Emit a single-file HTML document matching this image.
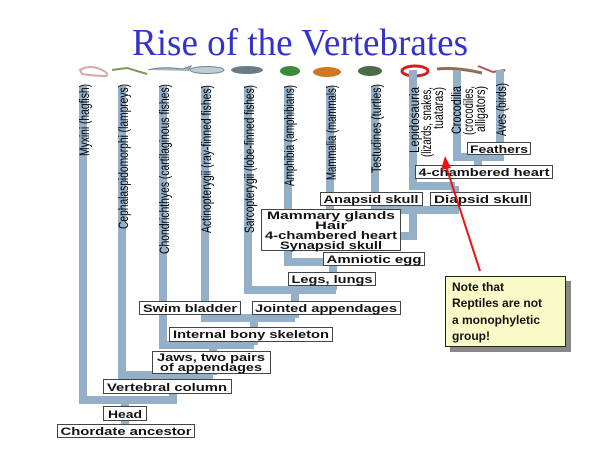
<!DOCTYPE html>
<html><head><meta charset="utf-8"><style>
html,body{margin:0;padding:0;background:#fff;}
svg{display:block;}
</style></head><body>
<svg width="600" height="450" viewBox="0 0 600 450" xmlns="http://www.w3.org/2000/svg" font-family="Liberation Sans, sans-serif">
<text x="300" y="55" text-anchor="middle" font-family="Liberation Serif, serif" font-size="38" fill="#3333cc" textLength="336" lengthAdjust="spacingAndGlyphs">Rise of the Vertebrates</text>

<!-- animals -->
<g>
<path d="M80 70 q10 -6 22 0 q8 4 4 6 q-10 0 -24 -2z" fill="none" stroke="#d8a8a8" stroke-width="2"/>
<path d="M112 70 l15 -2 l20 6" fill="none" stroke="#7a9a50" stroke-width="2"/>
<path d="M148 70 q15 -4 35 -1 l8 -3 l-3 5" fill="#a8b8c0" stroke="#708090" stroke-width="1"/>
<ellipse cx="207" cy="70" rx="17" ry="3.5" fill="#c0ccd0" stroke="#708898"/>
<ellipse cx="247" cy="70" rx="16" ry="4" fill="#6a7a88"/>
<ellipse cx="290" cy="71" rx="10" ry="5" fill="#3a8a3a"/>
<ellipse cx="327" cy="72" rx="14" ry="5" fill="#d07820"/>
<ellipse cx="370" cy="71" rx="12" ry="5" fill="#4a6a4a"/>
<ellipse cx="415" cy="71" rx="13" ry="5" fill="none" stroke="#d02020" stroke-width="3"/>
<path d="M437 69 q20 -2 45 4" fill="none" stroke="#8a7050" stroke-width="3"/>
<path d="M478 66 l15 6 l12 -2 l-8 5" fill="none" stroke="#b05050" stroke-width="2"/>
</g>

<!-- branches -->
<g stroke="#94b0c8" stroke-width="8" fill="none" stroke-linejoin="miter" stroke-linecap="butt">
<path d="M83 86 V400 H173 V378"/>
<path d="M125 400 V428"/>
<path d="M122 86 V375 H213"/>
<path d="M163 86 V345 H254"/>
<path d="M205 86 V318 H295"/>
<path d="M248 86 V290 H336"/>
<path d="M288 86 V262 H333 V290"/>
<path d="M330 86 V236 H413 V212"/>
<path d="M375 86 V210 H455 V186"/>
<path d="M413 70 V186 H455"/>
<path d="M457 70 V157 H500 V70"/>
<path d="M478 157 V171"/>
<path d="M213 375 V340"/>
<path d="M254 345 V318"/>
<path d="M295 318 V290"/>
</g>

<!-- rotated labels -->
<g font-size="14" fill="#000">
<text transform="translate(89,84) rotate(-90)" text-anchor="end" textLength="72" lengthAdjust="spacingAndGlyphs">Myxini (hagfish)</text>
<text transform="translate(128,84) rotate(-90)" text-anchor="end" textLength="145" lengthAdjust="spacingAndGlyphs">Cephalaspidomorphi (lampreys)</text>
<text transform="translate(169,84) rotate(-90)" text-anchor="end" textLength="170" lengthAdjust="spacingAndGlyphs">Chondrichthyes (cartilaginous fishes)</text>
<text transform="translate(211,85) rotate(-90)" text-anchor="end" textLength="148" lengthAdjust="spacingAndGlyphs">Actinopterygii (ray-finned fishes)</text>
<text transform="translate(254,85) rotate(-90)" text-anchor="end" textLength="148" lengthAdjust="spacingAndGlyphs">Sarcopterygii (lobe-finned fishes)</text>
<text transform="translate(294,85) rotate(-90)" text-anchor="end" textLength="101" lengthAdjust="spacingAndGlyphs">Amphibia (amphibians)</text>
<text transform="translate(336,85) rotate(-90)" text-anchor="end" textLength="95" lengthAdjust="spacingAndGlyphs">Mammalia (mammals)</text>
<text transform="translate(381,84) rotate(-90)" text-anchor="end" textLength="89" lengthAdjust="spacingAndGlyphs">Testudines (turtles)</text>
<text transform="translate(419,87) rotate(-90)" text-anchor="end" textLength="66" lengthAdjust="spacingAndGlyphs">Lepidosauria</text>
<text transform="translate(431,87) rotate(-90)" text-anchor="end" textLength="70" lengthAdjust="spacingAndGlyphs">(lizards, snakes,</text>
<text transform="translate(443,87) rotate(-90)" text-anchor="end" textLength="42" lengthAdjust="spacingAndGlyphs">tuataras)</text>
<text transform="translate(461,86) rotate(-90)" text-anchor="end" textLength="48" lengthAdjust="spacingAndGlyphs">Crocodilia</text>
<text transform="translate(473,86) rotate(-90)" text-anchor="end" textLength="49" lengthAdjust="spacingAndGlyphs">(crocodiles,</text>
<text transform="translate(485,86) rotate(-90)" text-anchor="end" textLength="46" lengthAdjust="spacingAndGlyphs">alligators)</text>
<text transform="translate(506,83) rotate(-90)" text-anchor="end" textLength="53" lengthAdjust="spacingAndGlyphs">Aves (birds)</text>
</g>

<!-- boxes -->
<g font-size="11" font-weight="bold" fill="#111" stroke="none">
<g fill="#fff" stroke="#444" stroke-width="1">
<rect x="57.5" y="424.5" width="137" height="13"/>
<rect x="103.5" y="406.5" width="43" height="14"/>
<rect x="103.5" y="379.5" width="128" height="14"/>
<rect x="152.5" y="351.5" width="118" height="22"/>
<rect x="169.5" y="327.5" width="163" height="14"/>
<rect x="139.5" y="301.5" width="101" height="13"/>
<rect x="252.5" y="301.5" width="148" height="13"/>
<rect x="288.5" y="272.5" width="87" height="13"/>
<rect x="323.5" y="252.5" width="101" height="13"/>
<rect x="261.5" y="209.5" width="139" height="41"/>
<rect x="320.5" y="192.5" width="102" height="13"/>
<rect x="430.5" y="192.5" width="100" height="13"/>
<rect x="415.5" y="165.5" width="137" height="13"/>
<rect x="467.5" y="142.5" width="63" height="12"/>
</g>
<text x="126" y="435" text-anchor="middle" textLength="131" lengthAdjust="spacingAndGlyphs">Chordate ancestor</text>
<text x="125" y="418" text-anchor="middle" textLength="34" lengthAdjust="spacingAndGlyphs">Head</text>
<text x="167" y="391" text-anchor="middle" textLength="120" lengthAdjust="spacingAndGlyphs">Vertebral column</text>
<text x="211" y="361" text-anchor="middle" textLength="108" lengthAdjust="spacingAndGlyphs">Jaws, two pairs</text>
<text x="211" y="371" text-anchor="middle" textLength="102" lengthAdjust="spacingAndGlyphs">of appendages</text>
<text x="251" y="338" text-anchor="middle" textLength="156" lengthAdjust="spacingAndGlyphs">Internal bony skeleton</text>
<text x="190" y="312" text-anchor="middle" textLength="94" lengthAdjust="spacingAndGlyphs">Swim bladder</text>
<text x="326" y="312" text-anchor="middle" textLength="142" lengthAdjust="spacingAndGlyphs">Jointed appendages</text>
<text x="332" y="283" text-anchor="middle" textLength="81" lengthAdjust="spacingAndGlyphs">Legs, lungs</text>
<text x="374" y="263" text-anchor="middle" textLength="95" lengthAdjust="spacingAndGlyphs">Amniotic egg</text>
<text x="331" y="219" text-anchor="middle" textLength="128" lengthAdjust="spacingAndGlyphs">Mammary glands</text>
<text x="331" y="229" text-anchor="middle" textLength="32" lengthAdjust="spacingAndGlyphs">Hair</text>
<text x="331" y="239" text-anchor="middle" textLength="132" lengthAdjust="spacingAndGlyphs">4-chambered heart</text>
<text x="331" y="249" text-anchor="middle" textLength="102" lengthAdjust="spacingAndGlyphs">Synapsid skull</text>
<text x="371" y="203" text-anchor="middle" textLength="95" lengthAdjust="spacingAndGlyphs">Anapsid skull</text>
<text x="481" y="203" text-anchor="middle" textLength="94" lengthAdjust="spacingAndGlyphs">Diapsid skull</text>
<text x="484" y="176" text-anchor="middle" textLength="131" lengthAdjust="spacingAndGlyphs">4-chambered heart</text>
<text x="499" y="153" text-anchor="middle" textLength="58" lengthAdjust="spacingAndGlyphs">Feathers</text>
</g>

<!-- arrow -->
<line x1="480" y1="271" x2="446" y2="166" stroke="#ee1111" stroke-width="2"/>
<polygon points="445,156 441,170 451,168" fill="#ee1111"/>

<!-- note -->
<rect x="450" y="281" width="121" height="71" fill="#888"/>
<rect x="445.5" y="276.5" width="120" height="70" fill="#fafac8" stroke="#222" stroke-width="1"/>
<g font-size="12" font-weight="bold" fill="#111">
<text x="452" y="291">Note that</text>
<text x="452" y="307">Reptiles are not</text>
<text x="452" y="324">a monophyletic</text>
<text x="452" y="340">group!</text>
</g>
</svg>
</body></html>
